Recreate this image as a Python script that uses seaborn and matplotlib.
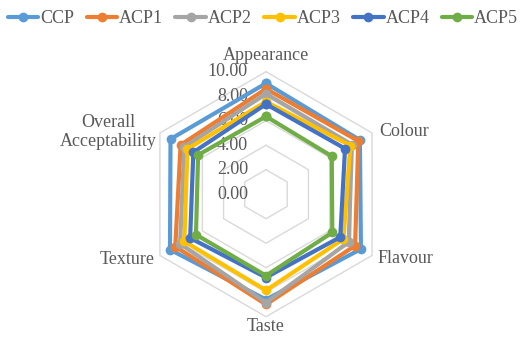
import numpy as np
import pandas as pd
import matplotlib
matplotlib.use("Agg")
import matplotlib.pyplot as plt
from matplotlib.lines import Line2D
from matplotlib.transforms import offset_copy
import seaborn as sns

# Sensory attributes (radar spokes, clockwise from the top)
attributes = ["Appearance", "Colour", "Flavour", "Taste", "Texture",
              "Overall\nAcceptability"]

# Mean sensory scores per sample
ccp = [9.05, 8.85, 8.95, 8.60, 9.05, 9.00]
acp1 = [8.60, 8.70, 8.40, 9.00, 8.55, 8.05]
acp2 = [8.20, 8.10, 7.80, 8.85, 8.10, 7.70]
acp3 = [7.55, 7.95, 7.30, 7.85, 7.70, 7.40]
acp4 = [7.35, 7.45, 7.00, 6.80, 7.15, 6.85]
acp5 = [6.35, 6.20, 6.25, 6.65, 6.60, 6.40]

samples = ["CCP", "ACP1", "ACP2", "ACP3", "ACP4", "ACP5"]
colors = ["#5B9BD5", "#ED7D31", "#A5A5A5", "#FFC000", "#4472C4", "#70AD47"]

# Radial scale ticks
r_ticks = [0, 2, 4, 6, 8, 10]
r_tick_labels = ["0.00", "2.00", "4.00", "6.00", "8.00", "10.00"]

sns.set_theme(style="white")
plt.rcParams["font.family"] = ["Liberation Serif", "DejaVu Serif"]
text_color = "#595959"
fs = 13

n = len(attributes)
angles = np.linspace(0, 2 * np.pi, n, endpoint=False)
angles_closed = np.append(angles, 2 * np.pi)

rows = []
for name, vals in zip(samples, [ccp, acp1, acp2, acp3, acp4, acp5]):
    closed = list(vals) + [vals[0]]
    for th, v in zip(angles_closed, closed):
        rows.append({"sample": name, "theta": th, "score": v})
df = pd.DataFrame(rows)

W, H = 526, 338
fig = plt.figure(figsize=(W / 100, H / 100), dpi=100)
cx, cy, R = 266.0, 194.2, 122.5
ax = fig.add_axes([(cx - R) / W, (H - cy - R) / H, 2 * R / W, 2 * R / H],
                  projection="polar")
ax.set_theta_zero_location("N")
ax.set_theta_direction(-1)
ax.set_ylim(0, 10)
ax.grid(False)
ax.set_xticks([])
ax.set_yticks([])
ax.spines["polar"].set_visible(False)
ax.set_facecolor("none")

# Hexagonal gridlines
for r in r_ticks[1:]:
    ax.plot(angles_closed, [r] * len(angles_closed), color="#D9D9D9",
            lw=1.0, zorder=1, clip_on=False)

sns.lineplot(data=df, x="theta", y="score", hue="sample", hue_order=samples,
             palette=colors, sort=False, estimator=None, units="sample",
             marker="o", markersize=7, markeredgewidth=0, linewidth=3.0,
             legend=False, ax=ax, zorder=3, clip_on=False)
ax.set_xlabel("")
ax.set_ylabel("")

# Radial value labels along the top spoke
lab_tr = offset_copy(ax.transData, fig=fig, x=-18, y=0, units="dots")
for r, lab in zip(r_ticks, r_tick_labels):
    ax.text(0, r, lab, transform=lab_tr, ha="right", va="center",
            fontsize=fs, color=text_color, zorder=2)

# Attribute labels around the outer vertices (pixel offsets, alignment)
placements = [
    (0, 16, "center"),
    (7, 1, "left"),
    (5, -3, "left"),
    (0, -10, "center"),
    (-5, -4, "right"),
    (-3, 1, "right"),
]
for th, name, (dx, dy, ha) in zip(angles, attributes, placements):
    tr = offset_copy(ax.transData, fig=fig, x=dx, y=dy, units="dots")
    ax.text(th, 10, name, transform=tr, ha=ha, va="center", fontsize=fs,
            color=text_color, multialignment="center", clip_on=False)

handles = [Line2D([0], [0], color=c, lw=3.0, marker="o", markersize=7,
                  markeredgewidth=0) for c in colors]
fig.legend(handles, samples, loc="upper center", bbox_to_anchor=(0.5, 1.0),
           ncol=6, frameon=False, fontsize=fs, handlelength=1.7,
           handletextpad=0.1, columnspacing=0.68, labelcolor=text_color,
           borderaxespad=0.15)

fig.savefig("out.png", dpi=100)
